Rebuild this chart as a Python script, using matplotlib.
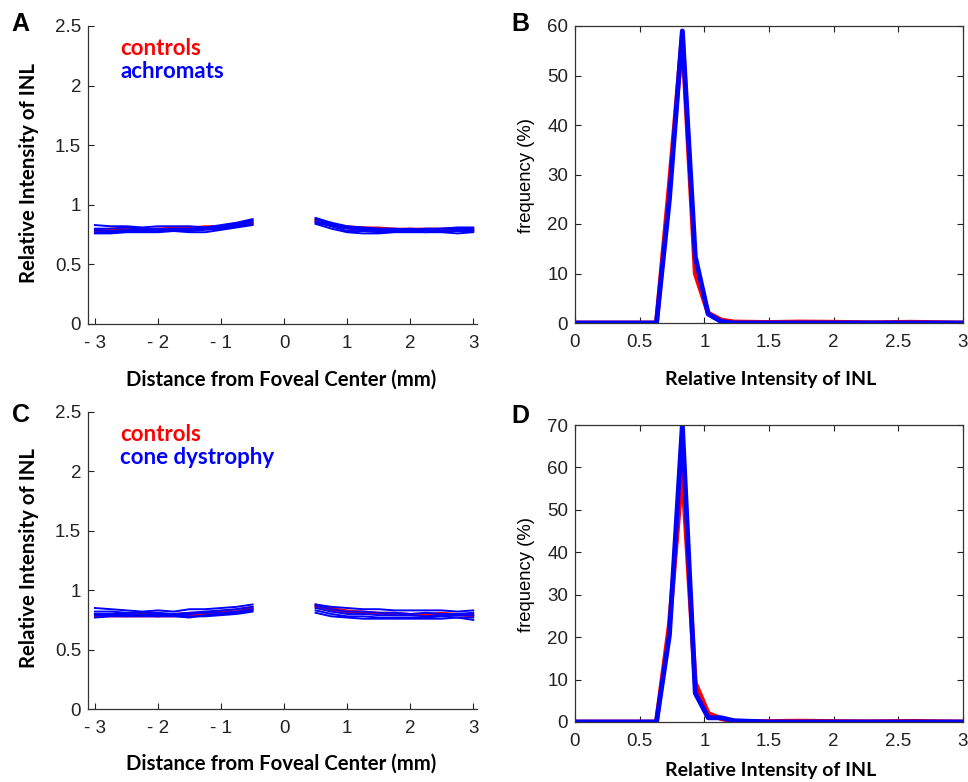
import numpy as np
import matplotlib
matplotlib.use('Agg')
import matplotlib.pyplot as plt

# profile positions (mm), fovea excluded
x_left = [-3, -2.75, -2.5, -2.25, -2, -1.75, -1.5, -1.25, -1, -0.75, -0.5]
x_right = [0.5, 0.75, 1, 1.25, 1.5, 1.75, 2, 2.25, 2.5, 2.75, 3]

# panel A: controls (red) and achromats (blue), left half + right half
a_red = [
    [0.78, 0.79, 0.79, 0.79, 0.79, 0.80, 0.80, 0.80, 0.81, 0.83, 0.85,
     0.87, 0.83, 0.81, 0.81, 0.80, 0.79, 0.79, 0.79, 0.79, 0.78, 0.79],
    [0.77, 0.78, 0.78, 0.79, 0.78, 0.79, 0.79, 0.80, 0.80, 0.82, 0.84,
     0.86, 0.82, 0.80, 0.80, 0.79, 0.79, 0.78, 0.79, 0.78, 0.79, 0.78],
    [0.79, 0.80, 0.80, 0.80, 0.80, 0.81, 0.81, 0.82, 0.82, 0.84, 0.86,
     0.88, 0.84, 0.82, 0.81, 0.81, 0.80, 0.80, 0.80, 0.80, 0.80, 0.80],
]
a_blue = [
    [0.83, 0.82, 0.82, 0.81, 0.82, 0.82, 0.82, 0.81, 0.83, 0.85, 0.88,
     0.89, 0.85, 0.82, 0.81, 0.80, 0.80, 0.79, 0.80, 0.80, 0.81, 0.81],
    [0.80, 0.80, 0.81, 0.80, 0.79, 0.80, 0.80, 0.81, 0.82, 0.84, 0.87,
     0.88, 0.84, 0.81, 0.80, 0.79, 0.79, 0.80, 0.79, 0.80, 0.80, 0.80],
    [0.79, 0.78, 0.79, 0.79, 0.80, 0.79, 0.79, 0.80, 0.81, 0.83, 0.86,
     0.86, 0.83, 0.80, 0.79, 0.78, 0.79, 0.78, 0.79, 0.78, 0.79, 0.79],
    [0.77, 0.77, 0.78, 0.78, 0.78, 0.78, 0.78, 0.79, 0.80, 0.82, 0.84,
     0.85, 0.82, 0.78, 0.78, 0.77, 0.78, 0.78, 0.77, 0.78, 0.78, 0.78],
    [0.76, 0.76, 0.77, 0.77, 0.77, 0.78, 0.77, 0.77, 0.79, 0.81, 0.83,
     0.84, 0.80, 0.77, 0.76, 0.76, 0.77, 0.77, 0.77, 0.77, 0.76, 0.77],
]

# panel C: controls (red) and cone dystrophy (blue)
c_red = [
    [0.79, 0.79, 0.78, 0.79, 0.79, 0.79, 0.80, 0.80, 0.81, 0.82, 0.85,
     0.88, 0.84, 0.82, 0.81, 0.81, 0.80, 0.80, 0.80, 0.80, 0.79, 0.79],
    [0.78, 0.78, 0.78, 0.78, 0.78, 0.78, 0.79, 0.79, 0.80, 0.82, 0.84,
     0.86, 0.83, 0.81, 0.80, 0.80, 0.79, 0.79, 0.79, 0.79, 0.79, 0.78],
    [0.80, 0.80, 0.80, 0.80, 0.80, 0.80, 0.81, 0.81, 0.82, 0.84, 0.86,
     0.87, 0.85, 0.83, 0.82, 0.81, 0.81, 0.80, 0.80, 0.81, 0.80, 0.80],
]
c_blue = [
    [0.85, 0.84, 0.83, 0.82, 0.83, 0.82, 0.84, 0.84, 0.85, 0.86, 0.88,
     0.88, 0.86, 0.85, 0.84, 0.84, 0.83, 0.83, 0.83, 0.83, 0.82, 0.83],
    [0.82, 0.82, 0.81, 0.81, 0.81, 0.80, 0.81, 0.82, 0.83, 0.84, 0.86,
     0.87, 0.84, 0.82, 0.82, 0.81, 0.81, 0.80, 0.81, 0.80, 0.80, 0.81],
    [0.80, 0.80, 0.80, 0.79, 0.80, 0.79, 0.80, 0.81, 0.81, 0.82, 0.84,
     0.85, 0.82, 0.80, 0.80, 0.79, 0.79, 0.79, 0.78, 0.79, 0.79, 0.79],
    [0.79, 0.79, 0.79, 0.79, 0.78, 0.78, 0.77, 0.79, 0.80, 0.81, 0.83,
     0.83, 0.80, 0.78, 0.78, 0.77, 0.77, 0.77, 0.77, 0.78, 0.77, 0.77],
    [0.77, 0.78, 0.78, 0.78, 0.78, 0.79, 0.78, 0.78, 0.79, 0.80, 0.82,
     0.81, 0.78, 0.77, 0.76, 0.76, 0.76, 0.76, 0.76, 0.76, 0.77, 0.75],
]

# histograms of relative intensity
hist_x = [0, 0.63, 0.73, 0.83, 0.93, 1.03, 1.13, 1.23, 1.5, 1.73, 2.0, 2.3, 2.6, 3.0]
b_red = [0, 0, 28, 58, 10, 2, 0.6, 0.2, 0.1, 0.2, 0.15, 0.05, 0.15, 0]
b_blue = [0, 0, 25, 59, 13.4, 1.8, 0.3, 0, 0, 0, 0, 0, 0, 0]
d_red = [0, 0, 23, 59.4, 9.2, 2, 0.8, 0.1, 0.1, 0.2, 0.1, 0.05, 0.15, 0]
d_blue = [0, 0, 20.5, 70, 6.8, 1, 1, 0.3, 0, 0, 0, 0, 0, 0]

pos_ticks = [-3, -2, -1, 0, 1, 2, 3]
pos_labels = ['- 3', '- 2', '- 1', '0', '1', '2', '3']

RED = '#ff0000'
BLUE = '#0000ff'
tickfont = 'Liberation Sans'
labfont = 'Lato'

fig = plt.figure(figsize=(9.68, 7.82), dpi=100)
W, H = 968, 782


def add_ax(left, top, right, bottom):
    return fig.add_axes([left / W, 1 - bottom / H, (right - left) / W, (bottom - top) / H])


def style_ticks(ax):
    ax.tick_params(direction='in', length=4, width=0.8, labelsize=13.5, colors='#222222')
    ax.tick_params(axis='x', pad=8)
    ax.tick_params(axis='y', pad=5)
    for t in ax.get_xticklabels() + ax.get_yticklabels():
        t.set_fontfamily(tickfont)


def profile_panel(ax, reds, blues, group):
    n = len(x_left)
    for ys in reds:
        ax.plot(x_left, ys[:n], color=RED, lw=1.4)
        ax.plot(x_right, ys[n:], color=RED, lw=1.4)
    for ys in blues:
        ax.plot(x_left, ys[:n], color=BLUE, lw=1.4)
        ax.plot(x_right, ys[n:], color=BLUE, lw=1.4)
    ax.set_xlim(-3.11, 3.06)
    ax.set_ylim(0, 2.5)
    ax.set_yticks([0, 0.5, 1, 1.5, 2, 2.5])
    ax.set_yticklabels(['0', '0.5', '1', '1.5', '2', '2.5'])
    ax.set_xticks(pos_ticks)
    ax.set_xticklabels(pos_labels)
    for s in ['top', 'right']:
        ax.spines[s].set_visible(False)
    for s in ['left', 'bottom']:
        ax.spines[s].set_color('#333333')
        ax.spines[s].set_linewidth(0.9)
    style_ticks(ax)
    ax.set_ylabel('Relative Intensity of INL', fontsize=14.7, fontweight='bold', family=labfont)
    ax.yaxis.set_label_coords(-0.126, 0.508)
    ax.set_xlabel('Distance from Foveal Center (mm)', fontsize=14.7, fontweight='bold', family=labfont)
    ax.xaxis.set_label_coords(0.497, -0.152)
    ax.text(-2.6, 2.31, 'controls', color=RED, fontsize=16, fontweight='bold', family=labfont, va='center')
    ax.text(-2.6, 2.12, group, color=BLUE, fontsize=16, fontweight='bold', family=labfont, va='center')


def hist_panel(ax, red, blue, ymax, xlab_y):
    ax.plot(hist_x, red, color=RED, lw=3.5)
    ax.plot(hist_x, blue, color=BLUE, lw=3.5)
    ax.set_xlim(0, 3)
    ax.set_ylim(0, ymax)
    ax.set_xticks([0, 0.5, 1, 1.5, 2, 2.5, 3])
    ax.set_xticklabels(['0', '0.5', '1', '1.5', '2', '2.5', '3'])
    ax.set_yticks(list(range(0, ymax + 1, 10)))
    for s in ax.spines.values():
        s.set_color('#333333')
        s.set_linewidth(0.9)
    ax.tick_params(top=True, right=True)
    style_ticks(ax)
    ax.set_ylabel('frequency (%)', fontsize=13.3, family=tickfont)
    ax.yaxis.set_label_coords(-0.103, 0.498)
    ax.set_xlabel('Relative Intensity of INL', fontsize=14, fontweight='bold', family=labfont)
    ax.xaxis.set_label_coords(0.504, xlab_y)


axA = add_ax(88, 26, 477, 324)
profile_panel(axA, a_red, a_blue, 'achromats')
axB = add_ax(575, 26, 963, 323)
hist_panel(axB, b_red, b_blue, 60, -0.162)
axC = add_ax(88, 412, 477, 709)
profile_panel(axC, c_red, c_blue, 'cone dystrophy')
axD = add_ax(575, 425, 963, 722)
hist_panel(axD, d_red, d_blue, 70, -0.135)

for lab, px, py in [('A', 20, 24), ('B', 520, 24), ('C', 21, 415), ('D', 520, 416)]:
    fig.text(px / W, 1 - py / H, lab, fontsize=18, fontweight='bold',
             family='Liberation Sans', ha='center', va='center')

fig.savefig('out.png', dpi=100)
